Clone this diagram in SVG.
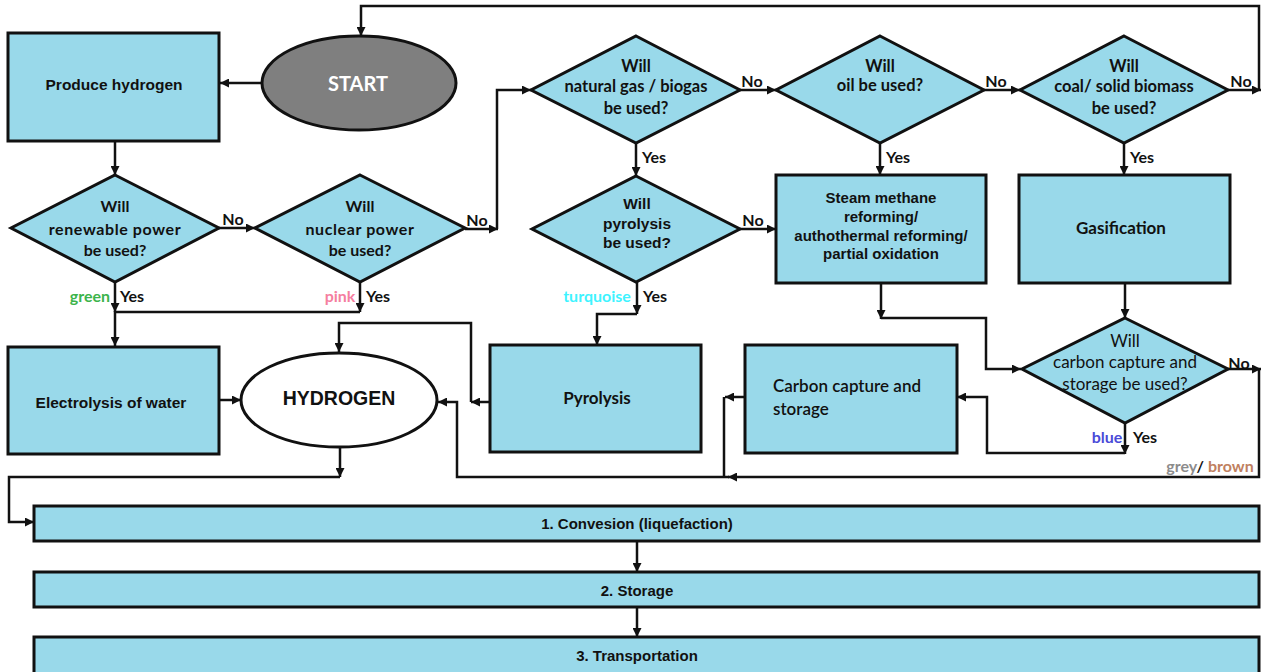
<svg xmlns="http://www.w3.org/2000/svg" width="1261" height="672" viewBox="0 0 1261 672">
<style>
.box{fill:#99d9ea;stroke:#111;stroke-width:3}
.ar{font-family:"Liberation Sans",Arial,sans-serif;font-weight:bold;fill:#111;text-anchor:middle;dominant-baseline:central}
.ca{font-family:Lato,"Open Sans",sans-serif;font-weight:bold;fill:#111;text-anchor:middle;dominant-baseline:central}
.cr{font-family:Lato,"Open Sans",sans-serif;fill:#111;dominant-baseline:central}
.ln{fill:none;stroke:#111;stroke-width:2.5}
.lb{font-family:Lato,"Open Sans",sans-serif;font-weight:bold;font-size:16px;text-anchor:middle;dominant-baseline:central;fill:#111}
</style>
<defs>
<marker id="ah" markerUnits="userSpaceOnUse" viewBox="0 0 10 10" refX="10" refY="5" markerWidth="9" markerHeight="9" orient="auto">
<path d="M0,0 L10,5 L0,10 z" fill="#111"/>
</marker>
</defs>
<rect width="1261" height="672" fill="#fff"/>

<g id="connectors">
<path class="ln" d="M261,83 L220,83" marker-end="url(#ah)"/>
<path class="ln" d="M1228,90 L1261,90" marker-end="url(#ah)"/>
<path class="ln" d="M1259,91 L1259,6 L361,6 L361,36" marker-end="url(#ah)"/>
<path class="ln" d="M115,141 L115,175" marker-end="url(#ah)"/>
<path class="ln" d="M219,228 L255,228" marker-end="url(#ah)"/>
<path class="ln" d="M465,229 L498,229" marker-end="url(#ah)"/>
<path class="ln" d="M497,229 L497,90 L531,90" marker-end="url(#ah)"/>
<path class="ln" d="M740,90 L776,90" marker-end="url(#ah)"/>
<path class="ln" d="M984,90 L1020,90" marker-end="url(#ah)"/>
<path class="ln" d="M636,143 L636,176" marker-end="url(#ah)"/>
<path class="ln" d="M880,143 L880,175" marker-end="url(#ah)"/>
<path class="ln" d="M1124,143 L1124,175" marker-end="url(#ah)"/>
<path class="ln" d="M740,229 L776,229" marker-end="url(#ah)"/>
<path class="ln" d="M637,282 L637,314" marker-end="url(#ah)"/>
<path class="ln" d="M637,314 L597,314 L597,345" marker-end="url(#ah)"/>
<path class="ln" d="M115,282 L115,312" marker-end="url(#ah)"/>
<path class="ln" d="M115,311 L115,346" marker-end="url(#ah)"/>
<path class="ln" d="M360,282 L360,312" marker-end="url(#ah)"/>
<path class="ln" d="M360,312 L115,312"/>
<path class="ln" d="M219,400 L241,400" marker-end="url(#ah)"/>
<path class="ln" d="M490,402 L471,402" marker-end="url(#ah)"/>
<path class="ln" d="M471,402 L471,323 L339,323 L339,352" marker-end="url(#ah)"/>
<path class="ln" d="M881,283 L881,319" marker-end="url(#ah)"/>
<path class="ln" d="M881,318 L986,318 L986,369 L1021,369" marker-end="url(#ah)"/>
<path class="ln" d="M1125,283 L1125,318" marker-end="url(#ah)"/>
<path class="ln" d="M1228,369 L1261,369" marker-end="url(#ah)"/>
<path class="ln" d="M1259,369 L1259,477 L728,477" marker-end="url(#ah)"/>
<path class="ln" d="M729,477 L457,477 L457,402 L438,402" marker-end="url(#ah)"/>
<path class="ln" d="M1125,423 L1125,454" marker-end="url(#ah)"/>
<path class="ln" d="M1125,453 L987,453 L987,397 L957,397" marker-end="url(#ah)"/>
<path class="ln" d="M745,397 L725,397" marker-end="url(#ah)"/>
<path class="ln" d="M724,397 L724,477"/>
<path class="ln" d="M340,447 L340,477" marker-end="url(#ah)"/>
<path class="ln" d="M340,477 L9,477 L9,522 L34,522" marker-end="url(#ah)"/>
<path class="ln" d="M637,541 L637,572" marker-end="url(#ah)"/>
<path class="ln" d="M637,607 L637,637" marker-end="url(#ah)"/>
</g>

<g id="labels">
<text class="lb" x="233" y="218">No</text>
<text class="lb" x="477" y="219">No</text>
<text class="lb" x="752" y="80">No</text>
<text class="lb" x="996" y="80">No</text>
<text class="lb" x="1241" y="80">No</text>
<text class="lb" x="753" y="219">No</text>
<text class="lb" x="1239" y="362">No</text>
<text class="lb" x="654" y="156">Yes</text>
<text class="lb" x="898" y="156">Yes</text>
<text class="lb" x="1142" y="156">Yes</text>
<text class="lb" x="90" y="295" style="fill:#3cb44b">green</text>
<text class="lb" x="132" y="295">Yes</text>
<text class="lb" x="340" y="295" style="fill:#f57ea0">pink</text>
<text class="lb" x="378" y="295">Yes</text>
<text class="lb" x="597" y="295" style="fill:#3ff3ff">turquoise</text>
<text class="lb" x="655" y="295">Yes</text>
<text class="lb" x="1107" y="436" style="fill:#4a4ad8">blue</text>
<text class="lb" x="1145" y="436">Yes</text>
<text class="lb" x="1210" y="465"><tspan style="fill:#8c8c8c">grey</tspan><tspan style="fill:#111">/ </tspan><tspan style="fill:#c08060">brown</tspan></text>
</g>

<g id="produce">
<rect class="box" x="8" y="33" width="211" height="108"/>
<text class="ar" x="114" y="84" font-size="15.5">Produce hydrogen</text>
</g>

<g id="start">
<ellipse cx="359" cy="83" rx="97" ry="47" fill="#7f7f7f" stroke="#111" stroke-width="3"/>
<text class="ca" x="358" y="83" font-size="20" style="fill:#fff">START</text>
</g>

<g id="renewable">
<polygon class="box" points="115,175 219,228 115,282 11,228"/>
<text class="ca" x="115" y="205" font-size="16">Will</text>
<text class="ca" x="115" y="228" font-size="16" letter-spacing="0.6">renewable power</text>
<text class="ca" x="115" y="249" font-size="16">be used?</text>
</g>

<g id="nuclear">
<polygon class="box" points="360,175 465,228 360,282 255,228"/>
<text class="ca" x="360" y="205" font-size="16">Will</text>
<text class="ca" x="360" y="228" font-size="16" letter-spacing="0.6">nuclear power</text>
<text class="ca" x="360" y="249" font-size="16">be used?</text>
</g>

<g id="natgas">
<polygon class="box" points="636,36 740,90 636,143 531,90"/>
<text class="ca" x="636" y="66" font-size="16.5">Will</text>
<text class="ca" x="636" y="86" font-size="16.5">natural gas / biogas</text>
<text class="ca" x="636" y="108" font-size="16.5">be used?</text>
</g>

<g id="oil">
<polygon class="box" points="880,36 984,90 880,143 776,90"/>
<text class="ca" x="880" y="66" font-size="16.5">Will</text>
<text class="ca" x="880" y="85" font-size="16.5">oil be used?</text>
</g>

<g id="coal">
<polygon class="box" points="1124,36 1228,90 1124,143 1020,90"/>
<text class="ca" x="1124" y="66" font-size="16.5">Will</text>
<text class="ca" x="1124" y="86" font-size="16.5">coal/ solid biomass</text>
<text class="ca" x="1124" y="108" font-size="16.5">be used?</text>
</g>

<g id="pyrodiamond">
<polygon class="box" points="636,176 740,229 636,282 532,229"/>
<text class="ar" x="637" y="203" font-size="15.5">Will</text>
<text class="ar" x="637" y="223" font-size="15.5">pyrolysis</text>
<text class="ar" x="637" y="242" font-size="15.5">be used?</text>
</g>

<g id="steam">
<rect class="box" x="776" y="175" width="210" height="108"/>
<text class="ar" x="881" y="197" font-size="15">Steam methane</text>
<text class="ar" x="881" y="216" font-size="15">reforming/</text>
<text class="ar" x="881" y="235" font-size="15">authothermal reforming/</text>
<text class="ar" x="881" y="253" font-size="15">partial oxidation</text>
</g>

<g id="gasification">
<rect class="box" x="1019" y="175" width="211" height="108"/>
<text class="ca" x="1121" y="227" font-size="17">Gasification</text>
</g>

<g id="ccsdiamond">
<polygon class="box" points="1125,318 1228,369 1125,423 1022,369"/>
<text class="cr" x="1125" y="340" font-size="17" text-anchor="middle">Will</text>
<text class="cr" x="1125" y="361" font-size="17" text-anchor="middle">carbon capture and</text>
<text class="cr" x="1125" y="383" font-size="17" text-anchor="middle">storage be used?</text>
</g>

<g id="electrolysis">
<rect class="box" x="8" y="347" width="211" height="107"/>
<text class="ar" x="111" y="402" font-size="15.5">Electrolysis of water</text>
</g>

<g id="hydrogen">
<ellipse cx="339" cy="400" rx="98" ry="47" fill="#fff" stroke="#111" stroke-width="3"/>
<text class="ar" x="339" y="398" font-size="19.5">HYDROGEN</text>
</g>

<g id="pyrolysis">
<rect class="box" x="490" y="345" width="211" height="107"/>
<text class="ca" x="597" y="397" font-size="17">Pyrolysis</text>
</g>

<g id="ccs">
<rect class="box" x="745" y="345" width="212" height="108"/>
<text class="cr" x="773" y="385" font-size="17" style="font-weight:600">Carbon capture and</text>
<text class="cr" x="773" y="408" font-size="17" style="font-weight:600">storage</text>
</g>

<g id="conversion">
<rect class="box" x="34" y="506" width="1225" height="35"/>
<text class="ar" x="637" y="523" font-size="15">1. Convesion (liquefaction)</text>
</g>

<g id="storage">
<rect class="box" x="34" y="572" width="1225" height="35"/>
<text class="ar" x="637" y="590" font-size="15">2. Storage</text>
</g>

<g id="transportation">
<rect class="box" x="34" y="637" width="1225" height="38"/>
<text class="ar" x="637" y="655" font-size="15">3. Transportation</text>
</g>
</svg>
